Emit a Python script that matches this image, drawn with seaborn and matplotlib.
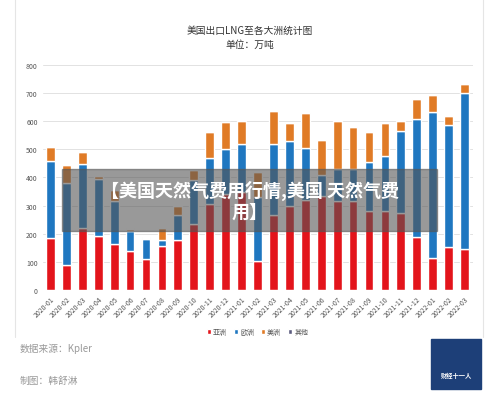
import numpy as np
import pandas as pd
import matplotlib.pyplot as plt
from matplotlib.patches import Rectangle
import seaborn as sns

sns.set_theme(style="white")
plt.rcParams['font.family'] = ['Noto Sans CJK SC', 'DejaVu Sans']

months = ["2020-01", "2020-02", "2020-03", "2020-04", "2020-05", "2020-06", "2020-07",
          "2020-08", "2020-09", "2020-10", "2020-11", "2020-12", "2021-01", "2021-02",
          "2021-03", "2021-04", "2021-05", "2021-06", "2021-07", "2021-08", "2021-09",
          "2021-10", "2021-11", "2021-12", "2022-01", "2022-02", "2022-03"]
asia = [185, 90, 220, 193, 163, 137, 110, 157, 177, 235, 305, 340, 350, 105,
        265, 297, 320, 335, 315, 318, 282, 280, 275, 190, 115, 152, 147]
europe = [275, 290, 228, 202, 155, 73, 70, 21, 91, 155, 165, 162, 170, 225,
          255, 233, 185, 75, 115, 112, 173, 197, 290, 417, 518, 433, 553]
americas = [47, 63, 44, 10, 37, 8, 5, 44, 30, 37, 92, 96, 80, 90,
            115, 65, 125, 122, 170, 148, 105, 115, 35, 73, 59, 32, 33]
other = [0, 0, 0, 0, 0, 3, 2, 0, 0, 0, 0, 0, 0, 0,
         0, 0, 0, 0, 0, 0, 0, 0, 0, 0, 0, 0, 0]

series = ["亚洲", "欧洲", "美洲", "其他"]
colors = ["#e3141b", "#1f77c0", "#e07b26", "#5b5b7e"]

df = pd.DataFrame({"month": months, "亚洲": asia, "欧洲": europe, "美洲": americas, "其他": other})

fig = plt.figure(figsize=(5.0, 4.02), dpi=100)
ax = fig.add_axes([0.085, 0.276, 0.86, 0.56])

bottom = np.zeros(len(months))
for name, c in zip(series, colors):
    sns.barplot(x=df["month"], y=df[name], bottom=bottom, color=c, width=0.55,
                label=name, ax=ax, saturation=1)
    bottom += df[name].values

ax.set_ylim(0, 800)
ax.set_yticks(range(0, 801, 100))
ax.tick_params(axis="y", labelsize=5, colors="#555555", length=0)
ax.tick_params(axis="x", labelsize=5, colors="#555555", length=0, rotation=45)
for t in ax.get_xticklabels():
    t.set_ha("right")
    t.set_rotation_mode("anchor")
ax.set_xlabel("")
ax.set_ylabel("")
ax.yaxis.grid(True, color="#e2e2e2", linewidth=0.7)
ax.set_axisbelow(True)
sns.despine(ax=ax, left=True, bottom=True)

ax.legend(loc="upper center", bbox_to_anchor=(0.5, -0.14), ncol=4, frameon=False,
          fontsize=5, handlelength=0.6, handleheight=0.6, columnspacing=1.0,
          handletextpad=0.3, labelcolor="#555555")

fig.text(0.5, 0.915, "美国出口LNG至各大洲统计图", ha="center", fontsize=7, color="#333333")
fig.text(0.5, 0.88, "单位：万吨", ha="center", fontsize=7, color="#333333")
fig.text(0.04, 0.125, "数据来源：Kpler", fontsize=7, color="#999999")
fig.text(0.04, 0.045, "制图：韩舒淋", fontsize=7, color="#999999")

fig.add_artist(plt.Line2D([0.03, 0.03], [0.16, 1.0], color="#e5e5e5", linewidth=0.8))
fig.add_artist(plt.Line2D([0.965, 0.965], [0.16, 1.0], color="#e5e5e5", linewidth=0.8))

fig.add_artist(Rectangle((0.862, 0.03), 0.1, 0.125, transform=fig.transFigure,
                         color="#1d3f78", zorder=5))
fig.text(0.912, 0.06, "财经十一人", ha="center", fontsize=4.5, color="white",
         weight="bold", zorder=6)

fig.add_artist(Rectangle((0.124, 0.423), 0.75, 0.155, transform=fig.transFigure,
                         color="#555555", alpha=0.6, zorder=10))
fig.text(0.5, 0.5, "【美国天然气费用行情,美国 天然气费\n用】", ha="center", va="center",
         fontsize=13, color="white", weight="bold", zorder=11, linespacing=1.1)

fig.savefig("out.png", dpi=100)
